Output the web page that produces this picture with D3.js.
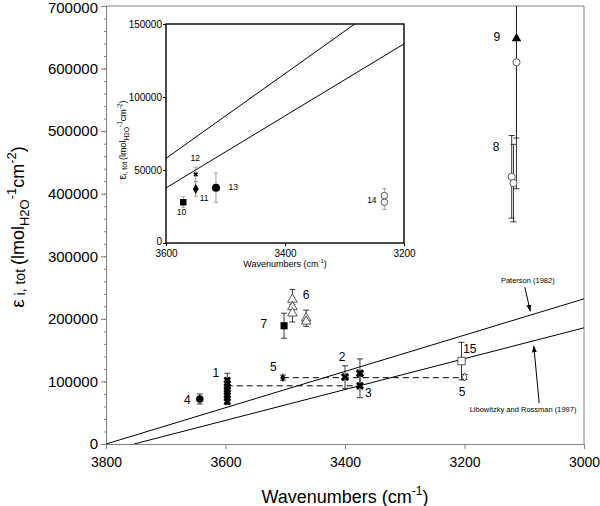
<!DOCTYPE html>
<html>
<head>
<meta charset="utf-8">
<script src="https://cdn.jsdelivr.net/npm/d3@7"></script>
<style>
body { margin: 0; background: #fff; }
svg { font-family: "Liberation Sans", Arial, Helvetica, sans-serif; }
</style>
</head>
<body>
<div id="chart"></div>
<script>
// ticks
const xTicks = [3800, 3600, 3400, 3200, 3000];
const yTicks = [0, 100000, 200000, 300000, 400000, 500000, 600000, 700000];
const insetXTicks = [3600, 3400, 3200];
const insetYTicks = [0, 50000, 100000, 150000];

// calibration lines [wavenumber, epsilon]
const patersonLine = [[3800, 0], [3000, 232000]];
const libowitzkyLine = [[3753, 0], [3000, 185700]];
const dashed1 = [[3598, 93000], [3375, 93000]];
const dashed5 = [[3504, 106000], [3200, 106000]];

// points [wavenumber, epsilon, error]
const sample1 = [[3597, 102000, 11000], [3597, 97000, 0], [3597, 92000, 0], [3597, 87000, 0],
                 [3597, 83000, 0], [3597, 78000, 0], [3597, 73000, 0], [3597, 68000, 5000]];
const sample2 = [[3400, 107000, 18000], [3375, 113000, 23000]];
const sample3 = [[3375, 93000, 19000]];
const sample4 = [[3643, 72000, 8000]];
const sample5a = [[3504, 106000, 4000]];
const sample5b = [[3200, 107000, 4000]];
const sample6 = [[3488, 231000, 16000], [3488, 219000, 0], [3488, 209000, 14000],
                 [3465, 201000, 13000], [3465, 196000, 0]];
const sample7 = [[3502, 189000, 20000]];
const sample8 = [[3121, 427000, 66000], [3118, 417000, 62000]];
const sample9 = [[3113, 648000, 240000]];
const sample9b = [[3113, 610000, 121000]];
const sample15 = [[3205, 132500, 30000]];

// inset points
const sample10 = [[3571, 27900, 3700]];
const sample11 = [[3550, 37000, 5000]];
const sample12 = [[3550, 47000, 5000]];
const sample13 = [[3516, 37900, 10000]];
const sample14 = [[3233, 32400, 5000], [3233, 27900, 5000]];

// labels [text, wavenumber, epsilon]
const mainLabels = [['1', 3616, 113000], ['2', 3405, 139000], ['3', 3361, 81400], ['4', 3664, 70300],
                    ['5', 3520, 123000], ['5', 3204, 83000], ['15', 3191, 151700], ['7', 3536, 191600],
                    ['6', 3465, 238000], ['9', 3146, 650000], ['8', 3147, 474000]];
const insetLabels = [['10', 3574, 21000], ['11', 3536, 30600], ['12', 3551, 58000],
                     ['13', 3487, 38600], ['14', 3254, 29500]];

const width = 600, height = 506;
const svg = d3.select('#chart').append('svg')
    .attr('width', width).attr('height', height);

const x = d3.scaleLinear().domain([3800, 3000]).range([106, 584]);
const y = d3.scaleLinear().domain([0, 700000]).range([444, 6]);
const xi = d3.scaleLinear().domain([3600, 3200]).range([166, 404]);
const yi = d3.scaleLinear().domain([0, 150000]).range([243, 24]);

const defs = svg.append('defs');
defs.append('clipPath').attr('id', 'mainClip').append('rect')
    .attr('x', 106).attr('y', 6).attr('width', 478).attr('height', 438);
defs.append('clipPath').attr('id', 'insetClip').append('rect')
    .attr('x', 166).attr('y', 24).attr('width', 238).attr('height', 219);
defs.append('marker').attr('id', 'arrow')
    .attr('viewBox', '0 0 10 10').attr('refX', 9).attr('refY', 5)
    .attr('markerWidth', 7).attr('markerHeight', 7).attr('orient', 'auto')
    .append('path').attr('d', 'M0,1.5 L10,5 L0,8.5 Z').attr('fill', '#000');

// ---- main axes
const gray = '#808080';
svg.append('g')
    .attr('transform', `translate(0,${y(0)})`)
    .call(d3.axisBottom(x).tickValues(xTicks).tickSize(5).tickFormat(d3.format('d')))
    .call(g => g.select('.domain').attr('stroke', gray))
    .call(g => g.selectAll('line').attr('stroke', gray))
    .call(g => g.selectAll('text').attr('font-size', 14).attr('fill', '#000').attr('dy', '1.05em'));

svg.append('g')
    .attr('transform', `translate(${x(3800)},0)`)
    .call(d3.axisLeft(y).tickValues(d3.range(0, 700001, 20000)).tickSize(2).tickFormat(''))
    .call(g => g.select('.domain').remove())
    .call(g => g.selectAll('line').attr('stroke', gray));

svg.append('g')
    .attr('transform', `translate(${x(3800)},0)`)
    .call(d3.axisLeft(y).tickValues(yTicks).tickSize(5).tickFormat(d3.format('d')))
    .call(g => g.select('.domain').attr('stroke', gray))
    .call(g => g.selectAll('line').attr('stroke', gray))
    .call(g => g.selectAll('text').attr('font-size', 15).attr('fill', '#000').attr('x', -8)
        .attr('dy', d => d === 700000 ? '0.45em' : '0.32em'));

// frame top/right
svg.append('path')
    .attr('d', `M${x(3800)},${y(700000)}H${x(3000)}V${y(0)}`)
    .attr('fill', 'none').attr('stroke', gray);

// ---- main content
const main = svg.append('g').attr('clip-path', 'url(#mainClip)');
const line = d3.line().x(d => x(d[0])).y(d => y(d[1]));

[patersonLine, libowitzkyLine].forEach(l =>
    main.append('path').attr('d', line(l)).attr('fill', 'none').attr('stroke', '#000').attr('stroke-width', 1));
[dashed1, dashed5].forEach(l =>
    main.append('path').attr('d', line(l)).attr('fill', 'none').attr('stroke', '#000')
        .attr('stroke-width', 1).attr('stroke-dasharray', '6,4'));

function errorBars(g, data, sx, sy, cap, color, sw) {
    const eb = g.append('g').attr('stroke', color).attr('stroke-width', sw);
    data.filter(d => d[2] > 0).forEach(d => {
        const px = sx(d[0]), y0 = sy(d[1] - d[2]), y1 = sy(d[1] + d[2]);
        eb.append('line').attr('x1', px).attr('x2', px).attr('y1', y0).attr('y2', y1);
        eb.append('line').attr('x1', px - cap).attr('x2', px + cap).attr('y1', y0).attr('y2', y0);
        eb.append('line').attr('x1', px - cap).attr('x2', px + cap).attr('y1', y1).attr('y2', y1);
    });
}

function marks(g, data, sx, sy, type, size, filled, rot) {
    g.append('g').selectAll('path').data(data).enter().append('path')
        .attr('d', d3.symbol().type(type).size(size))
        .attr('transform', d => `translate(${sx(d[0])},${sy(d[1])}) rotate(${rot || 0})`)
        .attr('fill', filled ? '#000' : '#fff')
        .attr('stroke', filled ? 'none' : '#444')
        .attr('stroke-width', 0.9);
}

const mainSeries = [
    [sample1, d3.symbolCross, 36, true, 45],
    [sample2, d3.symbolCross, 45, true, 45],
    [sample3, d3.symbolCross, 42, true, 45],
    [sample4, d3.symbolCircle, 45, true, 0],
    [sample5a, d3.symbolDiamond, 22, true, 0],
    [sample5b, d3.symbolDiamond, 20, false, 0],
    [sample6, d3.symbolTriangle, 40, false, 0],
    [sample7, d3.symbolSquare, 50, true, 0],
    [sample8, d3.symbolCircle, 40, false, 0],
    [sample9, d3.symbolTriangle, 40, true, 0],
    [sample9b, d3.symbolCircle, 40, false, 0],
    [sample15, d3.symbolSquare, 55, false, 0]
];
mainSeries.forEach(s => errorBars(main, s[0], x, y, 3, '#222', 0.9));
mainSeries.forEach(s => marks(main, s[0], x, y, s[1], s[2], s[3], s[4]));

svg.append('g').selectAll('text').data(mainLabels).enter().append('text')
    .attr('x', d => x(d[1])).attr('y', d => y(d[2]))
    .attr('text-anchor', 'middle').attr('dominant-baseline', 'central')
    .attr('font-size', 12).text(d => d[0]);

// annotations
svg.append('text').attr('x', x(3094)).attr('y', y(262000))
    .attr('text-anchor', 'middle').attr('dominant-baseline', 'central')
    .attr('font-size', 7.5).text('Paterson (1982)');
svg.append('line').attr('x1', x(3099)).attr('y1', y(250700)).attr('x2', x(3090)).attr('y2', y(212400))
    .attr('stroke', '#000').attr('marker-end', 'url(#arrow)');
svg.append('text').attr('x', x(3102)).attr('y', y(55900))
    .attr('text-anchor', 'middle').attr('dominant-baseline', 'central')
    .attr('font-size', 7.5).text('Libowitzky and Rossman (1997)');
svg.append('line').attr('x1', x(3075)).attr('y1', y(65500)).attr('x2', x(3084)).attr('y2', y(156500))
    .attr('stroke', '#000').attr('marker-end', 'url(#arrow)');

// axis titles with sub/superscripts
function richText(sel, parts) {
    let shift = 0;
    parts.forEach(p => {
        sel.append('tspan').attr('font-size', p[1]).attr('dy', (p[2] || 0) - shift).text(p[0]);
        shift = p[2] || 0;
    });
}

richText(svg.append('text').attr('x', 345).attr('y', 503).attr('text-anchor', 'middle'),
    [['Wavenumbers (cm', 18], ['-1', 12, -8], [')', 18]]);

richText(svg.append('text').attr('transform', 'translate(24,227) rotate(-90)').attr('text-anchor', 'middle'),
    [['\u03b5', 19], [' i, tot ', 14, 1], ['(lmol', 18], ['H2O', 13, 5], ['-1', 13, -8], ['cm', 18], ['-2', 13, -8], [')', 18]]);

// ---- inset
svg.append('rect').attr('x', 166).attr('y', 24).attr('width', 238).attr('height', 219).attr('fill', '#fff');

svg.append('g')
    .attr('transform', `translate(0,${yi(0)})`)
    .call(d3.axisBottom(xi).tickValues(insetXTicks).tickSize(3).tickFormat(d3.format('d')))
    .call(g => g.select('.domain').remove())
    .call(g => g.selectAll('text').attr('font-size', 10).attr('fill', '#000').attr('dy', '0.75em'));
svg.append('g')
    .attr('transform', `translate(${xi(3600)},0)`)
    .call(d3.axisLeft(yi).tickValues(insetYTicks).tickSize(3).tickFormat(d3.format('d')))
    .call(g => g.select('.domain').remove())
    .call(g => g.selectAll('text').attr('font-size', 10).attr('fill', '#000').attr('x', -4)
        .attr('dy', d => d === 0 ? '0.1em' : '0.32em'));

svg.append('rect').attr('x', 166).attr('y', 24).attr('width', 238).attr('height', 219)
    .attr('fill', 'none').attr('stroke', '#000').attr('stroke-width', 1.4);

const inset = svg.append('g').attr('clip-path', 'url(#insetClip)');
const lineI = d3.line().x(d => xi(d[0])).y(d => yi(d[1]));
[patersonLine, libowitzkyLine].forEach(l =>
    inset.append('path').attr('d', lineI(l)).attr('fill', 'none').attr('stroke', '#000').attr('stroke-width', 1));

const insetSeries = [
    [sample10, d3.symbolSquare, 42, true, 0],
    [sample11, d3.symbolDiamond, 30, true, 0],
    [sample12, d3.symbolCross, 14, true, 45],
    [sample13, d3.symbolCircle, 50, true, 0],
    [sample14, d3.symbolCircle, 34, false, 0]
];
insetSeries.forEach(s => errorBars(inset, s[0], xi, yi, 2, '#888', 0.8));
insetSeries.forEach(s => marks(inset, s[0], xi, yi, s[1], s[2], s[3], s[4]));

svg.append('g').selectAll('text').data(insetLabels).enter().append('text')
    .attr('x', d => xi(d[1])).attr('y', d => yi(d[2]))
    .attr('text-anchor', 'middle').attr('dominant-baseline', 'central')
    .attr('font-size', 8.5).text(d => d[0]);

richText(svg.append('text').attr('x', 285).attr('y', 267).attr('text-anchor', 'middle'),
    [['Wavenumbers (cm', 9], ['-1', 6, -4], [')', 9]]);

richText(svg.append('text').attr('transform', 'translate(126,140) rotate(-90)').attr('text-anchor', 'middle'),
    [['\u03b5', 10], ['i, tot ', 7, 1], ['(lmol', 9], ['H2O', 6.5, 2.5], ['-1', 6.5, -4], ['cm', 9], ['-2', 6.5, -4], [')', 9]]);
</script>
</body>
</html>
